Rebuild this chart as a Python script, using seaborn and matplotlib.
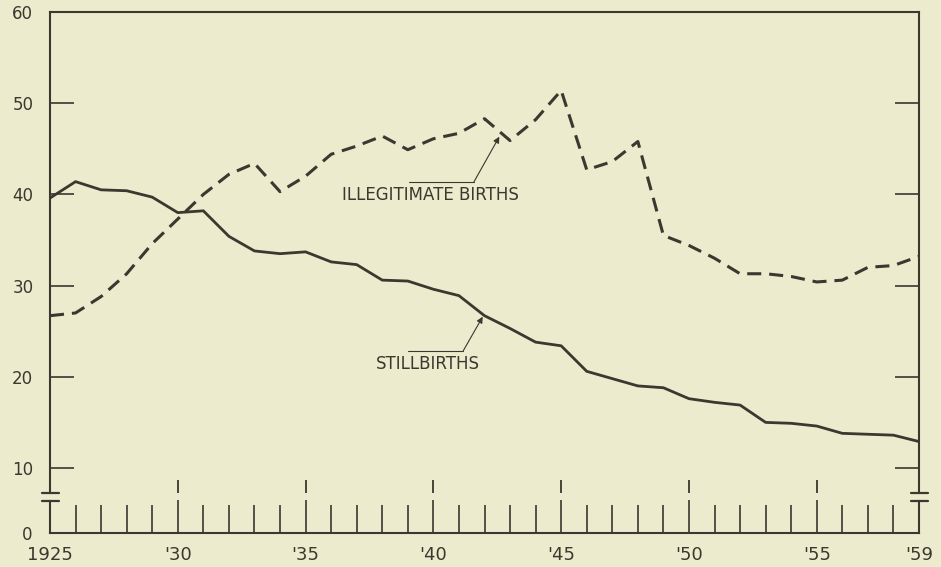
import numpy as np
import pandas as pd
import matplotlib
matplotlib.use("Agg")
import matplotlib.pyplot as plt
import seaborn as sns

# ---------------- data ----------------
years = list(range(1925, 1960))
stillbirths = [39.6, 41.4, 40.5, 40.4, 39.7, 38.0, 38.2, 35.4, 33.8, 33.5,
               33.7, 32.6, 32.3, 30.6, 30.5, 29.6, 28.9, 26.7, 25.3, 23.8,
               23.4, 20.6, 19.8, 19.0, 18.8, 17.6, 17.2, 16.9, 15.0, 14.9,
               14.6, 13.8, 13.7, 13.6, 12.9]
illegitimate = [26.7, 27.0, 28.8, 31.3, 34.6, 37.3, 40.0, 42.2, 43.4, 40.3,
                42.0, 44.4, 45.3, 46.4, 44.9, 46.1, 46.7, 48.3, 45.9, 48.2,
                51.4, 42.7, 43.6, 45.8, 35.5, 34.4, 33.0, 31.3, 31.3, 31.0,
                30.4, 30.6, 32.0, 32.2, 33.2]
x_major = [1925, 1930, 1935, 1940, 1945, 1950, 1955, 1959]
x_labels = ["1925", "'30", "'35", "'40", "'45", "'50", "'55", "'59"]
y_ticks = [10, 20, 30, 40, 50, 60]
y_labels = ["10", "20", "30", "40", "50", "60"]

df = pd.DataFrame({"year": years, "Stillbirths": stillbirths,
                   "Illegitimate births": illegitimate})

# ---------------- style ----------------
BG = "#ecebcd"
INK = "#3a382f"
sns.set_style("ticks")
plt.rcParams.update({
    "font.family": ["DejaVu Sans"],
    "figure.facecolor": BG,
    "axes.facecolor": BG,
    "savefig.facecolor": BG,
    "axes.edgecolor": INK,
    "text.color": INK,
    "xtick.color": INK,
    "ytick.color": INK,
    "xtick.labelcolor": INK,
    "ytick.labelcolor": INK,
})

W, H = 941, 567
fig = plt.figure(figsize=(W / 100, H / 100), dpi=100)

L, R = 50, 919
top_t, top_b = 12, 493
bot_t, bot_b = 501, 533

ax = fig.add_axes([L / W, 1 - top_b / H, (R - L) / W, (top_b - top_t) / H])
axb = fig.add_axes([L / W, 1 - bot_b / H, (R - L) / W, (bot_b - bot_t) / H])

# y scale: 60 at px 12, 10 at px 468
ppu = (468 - 12) / 50.0
ymin = 10 - (top_b - 468) / ppu
ax.set_xlim(1925, 1959)
ax.set_ylim(ymin, 60)
axb.set_xlim(1925, 1959)
axb.set_ylim(0, 1)

# lines
sns.lineplot(data=df, x="year", y="Stillbirths", ax=ax, color=INK,
             linewidth=2.0, solid_joinstyle="round")
sns.lineplot(data=df, x="year", y="Illegitimate births", ax=ax, color=INK,
             linewidth=2.2, dashes=False)
ax.lines[-1].set_dashes([4.6, 2.6])
ax.set_xlabel("")
ax.set_ylabel("")
axb.set_xlabel("")
axb.set_ylabel("")

# spines
for s in ["top", "left", "right"]:
    ax.spines[s].set_linewidth(1.5)
ax.spines["bottom"].set_visible(False)
for s in ["left", "right", "bottom"]:
    axb.spines[s].set_linewidth(1.5)
axb.spines["top"].set_visible(False)

# top axes ticks
ax.set_yticks(y_ticks)
ax.set_yticklabels(y_labels)
ax.tick_params(axis="y", which="major", direction="in", length=17.5,
               width=1.2, left=True, right=True, labelleft=True,
               labelright=False, labelsize=12, pad=12)
ax.set_xticks(x_major[:-1])
ax.tick_params(axis="x", which="major", direction="in", length=9.5,
               width=1.3, bottom=True, top=False, labelbottom=False)

# bottom axes ticks
axb.set_yticks([0])
axb.set_yticklabels(["0"])
axb.tick_params(axis="y", length=0, labelsize=12, pad=13)
axb.set_xticks(x_major)
axb.set_xticklabels(x_labels)
axb.set_xticks(years, minor=True)
axb.tick_params(axis="x", which="major", direction="in", length=23.5,
                width=1.2, labelsize=13, pad=9)
axb.tick_params(axis="x", which="minor", direction="in", length=20,
                width=1.2)

# axis break marks
half = 8.5 / (R - L)
for xa in (0, 1):
    ax.plot([xa - half, xa + half], [0, 0], transform=ax.transAxes,
            color=INK, lw=1.6, clip_on=False)
    axb.plot([xa - half, xa + half], [1, 1], transform=axb.transAxes,
             color=INK, lw=1.6, clip_on=False)

# annotations
ax.annotate("", xy=(1942.58, 46.33), xytext=(1941.59, 41.39),
            arrowprops=dict(arrowstyle="-|>", color=INK, lw=0.8,
                            mutation_scale=9, shrinkA=0, shrinkB=0))
ax.plot([1939.05, 1941.59], [41.39, 41.39], color=INK, lw=0.8)
ax.text(1936.41, 39.93, "ILLEGITIMATE BIRTHS", fontsize=12,
        ha="left", va="center", color=INK)

ax.annotate("", xy=(1941.93, 26.59), xytext=(1941.17, 22.86),
            arrowprops=dict(arrowstyle="-|>", color=INK, lw=0.8,
                            mutation_scale=9, shrinkA=0, shrinkB=0))
ax.plot([1939.0, 1941.17], [22.86, 22.86], color=INK, lw=0.8)
ax.text(1937.75, 21.4, "STILLBIRTHS", fontsize=12,
        ha="left", va="center", color=INK)

fig.savefig("out.png", dpi=100)
